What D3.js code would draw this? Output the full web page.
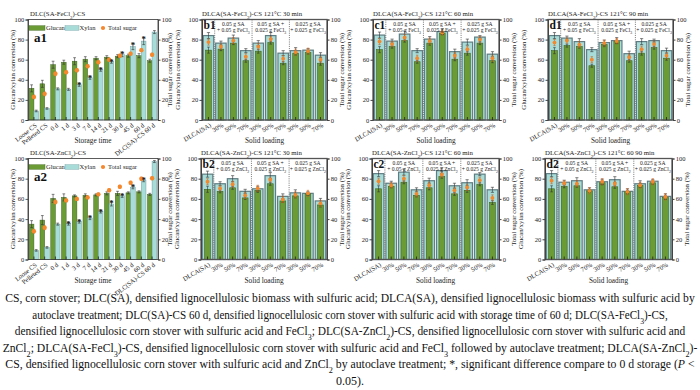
<!DOCTYPE html>
<html><head><meta charset="utf-8">
<script src="https://cdn.jsdelivr.net/npm/d3@7"></script>
<style>body{margin:0;background:#fff}svg{display:block}svg text{font-family:"Liberation Serif","DejaVu Serif",serif !important}</style>
</head><body><svg id="chart"></svg>
<script>
// ---------------- DATA ----------------
const storageCats = ["Loose CS","Pelleted CS","0 d","1 d","3 d","7 d","14 d","21 d","30 d","45 d","60 d","DLC(SA)-CS 60 d"];
const a1Glucan = [31.5, 36, 55, 57.5, 58.5, 60.5, 61.5, 62.5, 63.5, 64, 64, 59];
const a1Xylan  = [9, 11.5, 31, 30.5, 35, 42, 50, 58, 65, 73, 78.5, 87.5];
const a1Sugar  = [23, 26, 46, 47.5, 49.5, 53.5, 57.5, 60, 64, 66, 69.5, 65];
const a1GlucanErr = [3.5, 3.5, 3.5, 2, 3.5, 2.5, 1.5, 1.5, 1.5, 1.5, 2, 1.5];
const a1XylanErr  = [0.8, 0.8, 1, 1, 1.5, 1.5, 1.5, 1.5, 2, 3, 3.5, 1.5];
const a1Stars = [4,5,6,7,8,9,10];
const a2Glucan = [35, 39, 60.5, 61.5, 63, 63.5, 64, 65.5, 65.5, 66, 67, 64.5];
const a2Xylan  = [9, 12, 35, 35.5, 37.5, 41, 47.5, 55, 63, 71.5, 78.5, 97];
const a2Sugar  = [28, 31.5, 57, 58.5, 60, 61.5, 64.5, 68.5, 72, 76, 80, 80.5];
const a2GlucanErr = [3.5, 4.5, 4, 3.5, 1, 1.5, 1, 1.5, 2, 1, 1, 1];
const a2XylanErr  = [0.8, 0.8, 1, 1.5, 1.5, 1.5, 1.5, 2, 1.5, 1.5, 1.5, 1];
const a2Stars = [3,4,5,6,7,8,9,10];
const sugarErrA = [2, 2, 2, 1.5, 1.5, 1.5, 1.5, 1.5, 1.5, 1.5, 1.5, 1.5];

const loadCats = ["DLCA(SA)","30%","50%","70%","30%","50%","70%","30%","50%","70%"];
const b1Xylan  = [84, 76.5, 81.5, 69, 76.5, 84, 66.5, 69, 69.5, 64.5];
const b1Glucan = [69.5, 70.5, 76.5, 59, 68.5, 77, 56.5, 66.5, 67, 56.5];
const b1Sugar  = [77.5, 73, 79, 63, 73, 80.5, 61, 67.5, 68.5, 60];
const c1Xylan  = [84.5, 78.5, 85.5, 69, 80.5, 88, 68, 77.5, 82.5, 65.5];
const c1Glucan = [70, 73, 79, 58, 76.5, 86.5, 60.5, 66.5, 76.5, 59];
const c1Sugar  = [78, 75.5, 82, 61.5, 78.5, 87, 64, 70.5, 80, 61.5];
const d1Xylan  = [84, 81.5, 78, 70, 77, 79, 66, 78, 79, 69];
const d1Glucan = [69, 74, 73, 54, 75, 78, 59, 66.5, 72, 61.5];
const d1Sugar  = [77, 79, 75, 60, 76.5, 78.5, 62.5, 70.5, 75.5, 64];
const b2Xylan  = [84.5, 75, 80, 67.5, 70, 83, 62.5, 66, 65.5, 58];
const b2Glucan = [69.5, 67.5, 71, 61, 68.5, 75, 58, 63, 65, 54];
const b2Sugar  = [77, 70.5, 74.5, 63.5, 70.5, 79, 59.5, 64, 65.5, 55.5];
const c2Xylan  = [85, 75.5, 86.5, 69, 78, 88, 73, 76, 84.5, 69];
const c2Glucan = [70, 72.5, 76.5, 63.5, 71, 82, 65, 68.5, 74.5, 56.5];
const c2Sugar  = [77.5, 73.5, 80, 65, 73.5, 84, 68.5, 71.5, 78.5, 61];
const d2Xylan  = [85, 76.5, 78, 69, 77, 79, 67.5, 75, 77.5, 62.5];
const d2Glucan = [70, 72.5, 73, 68, 76, 72, 67, 73.5, 76, 61.5];
const d2Sugar  = [78, 75.5, 75, 68, 77, 75, 67, 73.5, 77, 62];
const bXylanErr  = [3, 2, 3, 2, 2.5, 3, 2.5, 3, 1.5, 2.5];
const bGlucanErr = [3, 1.5, 1.5, 1.5, 2, 1.5, 1.5, 2, 1.5, 2];
const bSugarErr  = [3, 2.5, 3, 3, 3, 2.5, 3, 3, 3, 3];

const yTicks = [0, 20, 40, 60, 80, 100];
const feGroups = [["0.05 g SA","+ 0.05 g FeCl_3"],["0.05 g SA +","0.025 g FeCl_3"],["0.025 g SA","+ 0.025 g FeCl_3"]];
const znGroups = [["0.05 g SA","+ 0.05 g ZnCl_2"],["0.05 g SA +","0.025 g ZnCl_2"],["0.025 g SA","+ 0.025 g ZnCl_2"]];

const captionLines = [
 "CS, corn stover; DLC(SA), densified lignocellulosic biomass with sulfuric acid; DLCA(SA), densified lignocellulosic biomass with sulfuric acid by",
 "autoclave treatment; DLC(SA)-CS 60 d, densified lignocellulosic corn stover with sulfuric acid with storage time of 60 d; DLC(SA-FeCl_3)-CS,",
 "densified lignocellulosic corn stover with sulfuric acid and FeCl_3; DLC(SA-ZnCl_2)-CS, densified lignocellulosic corn stover with sulfuric acid and",
 "ZnCl_2; DLCA(SA-FeCl_3)-CS, densified lignocellulosic corn stover with sulfuric acid and FeCl_3 followed by autoclave treatment; DLCA(SA-ZnCl_2)-",
 "CS, densified lignocellulosic corn stover with sulfuric acid and ZnCl_2 by autoclave treatment; *, significant difference compare to 0 d storage (~P~ <",
 "0.05)."
];
const captionWidths = [690, 636, 671, 695, 690, null];

// ---------------- STYLE ----------------
const GL = "#6b9b35", GLs = "#3d6320", XY = "#a8dcd8", XYs = "#6e9ea3", XYsB = "#5f7d82", SUG = "#f5872c";

const svg = d3.select("#chart").attr("width",700).attr("height",390);
svg.append("rect").attr("width",700).attr("height",390).attr("fill","#fff");

function rich(t, s){
  s.split(/(_\d|~P~)/).forEach(p=>{
    if(!p) return;
    if(p[0]==="_") t.append("tspan").attr("baseline-shift","sub").attr("font-size","70%").text(p.slice(1));
    else if(p==="~P~") t.append("tspan").attr("font-style","italic").text("P");
    else t.append("tspan").text(p);
  });
  return t;
}
function errBars(g, xs, vals, errs, y, color, cap, sw){
  const s = g.append("g").attr("stroke",color).attr("stroke-width",sw);
  vals.forEach((v,i)=>{
    const cx=xs(i), yt=y(v+errs[i]), yb=y(v-errs[i]);
    s.append("line").attr("x1",cx).attr("x2",cx).attr("y1",yt).attr("y2",yb);
    s.append("line").attr("x1",cx-cap).attr("x2",cx+cap).attr("y1",yt).attr("y2",yt);
    s.append("line").attr("x1",cx-cap).attr("x2",cx+cap).attr("y1",yb).attr("y2",yb);
  });
}
function yAxes(g, y, c, frameCol, frameW){
  const l = g.append("g").attr("transform",`translate(${c.x0},0)`).call(d3.axisLeft(y).tickValues(yTicks).tickSize(2.5).tickPadding(1.2));
  const r = g.append("g").attr("transform",`translate(${c.x1},0)`).call(d3.axisRight(y).tickValues(yTicks).tickSize(2.5).tickPadding(1.2));
  [l,r].forEach(a=>{
    a.attr("font-size",6.5);
    a.selectAll("line,path").attr("stroke",frameCol).attr("stroke-width",frameW);
    a.selectAll("text").attr("fill","#222");
  });
}
function axisTitles(g, c, lOff, rOff, xTitle){
  const my = (c.y0+c.y1)/2;
  g.append("text").attr("transform",`translate(${c.x0-lOff},${my}) rotate(-90)`).attr("text-anchor","middle")
    .attr("dy","0.35em").attr("font-size",6.8).attr("fill","#222").text("Glucan/xylan conversion (%)");
  g.append("text").attr("transform",`translate(${c.x1+rOff},${my}) rotate(-90)`).attr("text-anchor","middle")
    .attr("dy","0.35em").attr("font-size",6.8).attr("fill","#222").text("Total sugar conversion (%)");
  g.append("text").attr("x",(c.x0+c.x1)/2).attr("y",c.y1+23).attr("text-anchor","middle").attr("font-size",7.3).attr("fill","#222").text(xTitle);
}
function xLabels(g, x, cats, c, rot){
  const ax = g.append("g").attr("transform",`translate(0,${c.y1})`)
    .call(d3.axisBottom(x).tickSize(-3).tickFormat(i=>cats[i]));
  ax.select(".domain").remove();
  ax.selectAll("line").attr("stroke","#222").attr("stroke-width",0.8);
  ax.attr("font-size",6.5);
  ax.selectAll("text").attr("x",0).attr("y",0).attr("dy","0.35em").attr("text-anchor","end")
    .attr("transform",`translate(2,4.5) rotate(${rot})`).attr("fill","#222");
}

// ---------------- PANEL TYPE A ----------------
function drawA(c){
  const g = svg.append("g");
  const y = d3.scaleLinear().domain([0,100]).range([c.y1,c.y0]);
  const x = d3.scaleBand().domain(d3.range(storageCats.length)).range([c.x0,c.x1]).paddingInner(0.14).paddingOuter(0.12);
  const bw = x.bandwidth()/2;
  g.selectAll(".gl").data(c.glucan).join("rect").attr("x",(d,i)=>x(i)).attr("y",d=>y(d)).attr("width",bw)
    .attr("height",d=>y(0)-y(d)).attr("fill",GL).attr("stroke",GLs).attr("stroke-width",0.5);
  g.selectAll(".xy").data(c.xylan).join("rect").attr("x",(d,i)=>x(i)+bw).attr("y",d=>y(d)).attr("width",bw)
    .attr("height",d=>y(0)-y(d)).attr("fill",XY).attr("stroke",XYs).attr("stroke-width",0.5);
  errBars(g, i=>x(i)+bw/2, c.glucan, c.gErr, y, "#333", 1.4, 0.6);
  errBars(g, i=>x(i)+1.5*bw, c.xylan, c.xErr, y, "#333", 1.4, 0.6);
  errBars(g, i=>x(i)+bw, c.sugar, sugarErrA, y, "#c8641a", 1.2, 0.5);
  g.selectAll(".su").data(c.sugar).join("circle").attr("cx",(d,i)=>x(i)+bw).attr("cy",d=>y(d)).attr("r",2.2).attr("fill",SUG);
  c.stars.forEach(i=>{
    g.append("text").attr("x",x(i)+1.5*bw).attr("y",y(c.xylan[i]+c.xErr[i])+4.5).attr("text-anchor","middle")
      .attr("font-size",9).attr("font-weight","bold").attr("fill","#222").text("*");
  });
  g.append("rect").attr("x",c.x0).attr("y",c.y0).attr("width",c.x1-c.x0).attr("height",c.y1-c.y0)
    .attr("fill","none").attr("stroke","#333").attr("stroke-width",0.8);
  yAxes(g, y, c, "#333", 0.8);
  xLabels(g, x, storageCats, c, -38);
  axisTitles(g, c, 15, 12, "Storage time");
  rich(g.append("text").attr("x",c.x0+2).attr("y",c.y0-3.5).attr("font-size",6.8).attr("fill","#222"), c.title);
  g.append("text").attr("x",c.x0+6).attr("y",c.y0+22).attr("font-size",13).attr("font-weight","bold").attr("fill","#111").text(c.letter);
  const ly = c.y0+8.5;
  g.append("rect").attr("x",c.x0+1).attr("y",ly-2.3).attr("width",16).attr("height",4.6).attr("fill",GL).attr("stroke",GLs).attr("stroke-width",0.4);
  g.append("text").attr("x",c.x0+18).attr("y",ly).attr("dy","0.35em").attr("font-size",6.5).attr("fill","#222").text("Glucan");
  g.append("rect").attr("x",c.x0+37).attr("y",ly-2.3).attr("width",14).attr("height",4.6).attr("fill",XY).attr("stroke",XYs).attr("stroke-width",0.4);
  g.append("text").attr("x",c.x0+51.5).attr("y",ly).attr("dy","0.35em").attr("font-size",6.5).attr("fill","#222").text("Xylan");
  g.append("circle").attr("cx",c.x0+75).attr("cy",ly).attr("r",2.1).attr("fill",SUG);
  g.append("text").attr("x",c.x0+80).attr("y",ly).attr("dy","0.35em").attr("font-size",6.5).attr("fill","#222").text("Total sugar");
}

// ---------------- PANEL TYPE B ----------------
function drawB(c){
  const g = svg.append("g");
  const y = d3.scaleLinear().domain([0,100]).range([c.y1,c.y0]);
  const x = d3.scaleBand().domain(d3.range(loadCats.length)).range([c.x0,c.x1]).paddingInner(0.16).paddingOuter(0.1);
  const bw = x.bandwidth(), gw = bw*0.55;
  const cx = i=>x(i)+bw/2;
  g.selectAll(".xy").data(c.xylan).join("rect").attr("x",(d,i)=>x(i)).attr("y",d=>y(d)).attr("width",bw)
    .attr("height",d=>y(0)-y(d)).attr("fill",XY).attr("stroke",XYsB).attr("stroke-width",1.2);
  g.selectAll(".gl").data(c.glucan).join("rect").attr("x",(d,i)=>cx(i)-gw/2).attr("y",d=>y(d)).attr("width",gw)
    .attr("height",d=>y(0)-y(d)).attr("fill",GL).attr("stroke",GLs).attr("stroke-width",0.6);
  errBars(g, cx, c.xylan, bXylanErr, y, "#333", 1.6, 0.6);
  errBars(g, cx, c.glucan, bGlucanErr, y, "#333", 1.3, 0.6);
  errBars(g, cx, c.sugar, bSugarErr, y, "#d0601a", 1.2, 0.6);
  g.selectAll(".su").data(c.sugar).join("circle").attr("cx",(d,i)=>cx(i)).attr("cy",d=>y(d)).attr("r",1.9).attr("fill",SUG);
  [1,4,7].forEach(i=>{
    const sx = (x(i-1)+bw + x(i))/2;
    g.append("line").attr("x1",sx).attr("x2",sx).attr("y1",c.y0).attr("y2",c.y1).attr("stroke","#555")
      .attr("stroke-width",0.8).attr("stroke-dasharray","1,1.2");
  });
  c.groups.forEach((lab,k)=>{
    const gx = (x(1+3*k) + x(3+3*k)+bw)/2;
    lab.forEach((s,j)=>{
      rich(g.append("text").attr("x",gx).attr("y",c.y0+6+j*6.3).attr("text-anchor","middle").attr("font-size",5.6).attr("fill","#222"), s);
    });
  });
  g.append("rect").attr("x",c.x0).attr("y",c.y0).attr("width",c.x1-c.x0).attr("height",c.y1-c.y0)
    .attr("fill","none").attr("stroke","#555").attr("stroke-width",1.3);
  yAxes(g, y, c, "#444", 1);
  xLabels(g, x, loadCats, c, -30);
  axisTitles(g, c, 24, 15, "Solid loading");
  rich(g.append("text").attr("x",c.x0).attr("y",c.y0-3.5).attr("font-size",6.8).attr("fill","#222"), c.title);
  g.append("text").attr("x",c.x0+1.5).attr("y",c.y0+9.5).attr("font-size",11.5).attr("font-weight","bold").attr("fill","#111").text(c.letter);
}

drawA({x0:28,x1:158,y0:19.5,y1:120,title:"DLC(SA-FeCl_3)-CS",letter:"a1",glucan:a1Glucan,xylan:a1Xylan,sugar:a1Sugar,gErr:a1GlucanErr,xErr:a1XylanErr,stars:a1Stars});
drawA({x0:28,x1:158,y0:158.5,y1:259.5,title:"DLC(SA-ZnCl_2)-CS",letter:"a2",glucan:a2Glucan,xylan:a2Xylan,sugar:a2Sugar,gErr:a2GlucanErr,xErr:a2XylanErr,stars:a2Stars});
drawB({x0:202,x1:327,y0:19.5,y1:120,title:"DLCA(SA-FeCl_3)-CS 121°C 30 min",letter:"b1",xylan:b1Xylan,glucan:b1Glucan,sugar:b1Sugar,groups:feGroups});
drawB({x0:373,x1:499,y0:19.5,y1:120,title:"DLCA(SA-FeCl_3)-CS 121°C 60 min",letter:"c1",xylan:c1Xylan,glucan:c1Glucan,sugar:c1Sugar,groups:feGroups});
drawB({x0:548,x1:673,y0:19.5,y1:120,title:"DLCA(SA-FeCl_3)-CS 121°C 90 min",letter:"d1",xylan:d1Xylan,glucan:d1Glucan,sugar:d1Sugar,groups:feGroups});
drawB({x0:201,x1:327,y0:158.5,y1:259.5,title:"DLCA(SA-ZnCl_2)-CS 121°C 30 min",letter:"b2",xylan:b2Xylan,glucan:b2Glucan,sugar:b2Sugar,groups:znGroups});
drawB({x0:372,x1:499,y0:158.5,y1:259.5,title:"DLCA(SA-ZnCl_2)-CS 121°C 60 min",letter:"c2",xylan:c2Xylan,glucan:c2Glucan,sugar:c2Sugar,groups:znGroups});
drawB({x0:545,x1:672,y0:158.5,y1:259.5,title:"DLCA(SA-ZnCl_2)-CS 121°C 60 90 min",letter:"d2",xylan:d2Xylan,glucan:d2Glucan,sugar:d2Sugar,groups:znGroups});

// ---------------- CAPTION ----------------
captionLines.forEach((s,i)=>{
  const g = svg.append("g");
  const t = g.append("text").attr("x",0).attr("y",0).attr("text-anchor","middle").attr("font-size",12).attr("fill","#111");
  rich(t, s);
  let k = 1;
  if(captionWidths[i]){
    const w = t.node().getComputedTextLength();
    if(w>0) k = captionWidths[i]/w;
  }
  g.attr("transform",`translate(350,${302+i*16.6}) scale(${k},1)`);
});
</script></body></html>
